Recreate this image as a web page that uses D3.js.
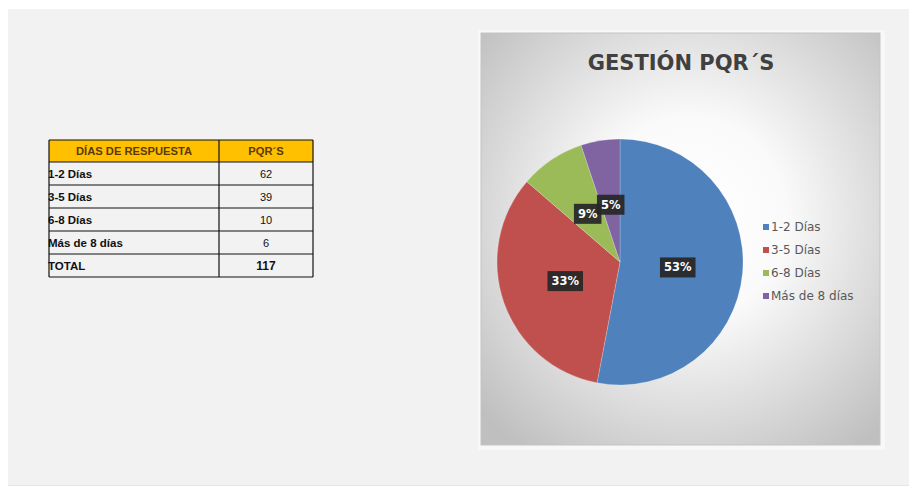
<!DOCTYPE html>
<html><head><meta charset="utf-8">
<script src="https://cdn.jsdelivr.net/npm/d3@7"></script>
<style>html,body{margin:0;padding:0;background:#fff;}svg{display:block;}</style>
</head><body>
<script>
const categories = ["1-2 Días", "3-5 Días", "6-8 Días", "Más de 8 días"];
const values = [62, 39, 10, 6];
const totalLabel = "TOTAL";
const tableHeaders = ["DÍAS DE RESPUESTA", "PQR´S"];
const colors = ["#4f81bd", "#c0504d", "#9bbb59", "#8064a2"];
const title = "GESTIÓN PQR´S";

const W = 909, H = 491;
const svg = d3.select("body").append("svg").attr("width", W).attr("height", H);

// page panel
svg.append("rect").attr("x", 8).attr("y", 9).attr("width", W - 8).attr("height", 476).attr("fill", "#f2f2f2");
svg.append("line").attr("x1", 8).attr("x2", W).attr("y1", 485.5).attr("y2", 485.5).attr("stroke", "#e6e6e6");

// ---------- table ----------
const tX0 = 49, tX1 = 219, tX2 = 313, tY0 = 140, hH = 22, rH = 23;
const rows = categories.map((c, i) => ({label: c, value: values[i], bold: false}));
rows.push({label: totalLabel, value: d3.sum(values), bold: true});
const tg = svg.append("g");
tg.append("rect").attr("x", tX0).attr("y", tY0).attr("width", tX2 - tX0).attr("height", hH).attr("fill", "#ffc000");
const rowY = d3.scaleLinear().domain([0, 1]).range([tY0 + hH, tY0 + hH + rH]);
const hLines = [tY0].concat(d3.range(rows.length + 1).map(i => rowY(i)));
tg.selectAll("line.h").data(hLines).join("line")
  .attr("x1", tX0).attr("x2", tX2).attr("y1", d => d).attr("y2", d => d)
  .attr("stroke", "#111").attr("stroke-width", 1.2);
tg.selectAll("line.v").data([tX0, tX1, tX2]).join("line")
  .attr("x1", d => d).attr("x2", d => d).attr("y1", tY0).attr("y2", rowY(rows.length))
  .attr("stroke", "#111").attr("stroke-width", 1.2);
tg.selectAll("text.hd").data(tableHeaders).join("text")
  .attr("x", (d, i) => i === 0 ? (tX0 + tX1) / 2 : (tX1 + tX2) / 2)
  .attr("y", tY0 + hH / 2 + 4)
  .attr("text-anchor", "middle").attr("font-family", "Liberation Sans, Arial, sans-serif")
  .attr("font-weight", "bold").attr("font-size", 11.2).attr("fill", "#5a3a08").text(d => d);
tg.selectAll("text.lab").data(rows).join("text")
  .attr("x", tX0 - 1).attr("y", (d, i) => rowY(i) + rH / 2 + 4)
  .attr("font-family", "Liberation Sans, Arial, sans-serif").attr("font-weight", "bold")
  .attr("font-size", 11.5).attr("fill", "#111").text(d => d.label);
tg.selectAll("text.val").data(rows).join("text")
  .attr("x", (tX1 + tX2) / 2).attr("y", (d, i) => rowY(i) + rH / 2 + 4)
  .attr("text-anchor", "middle")
  .attr("font-family", "Liberation Sans, Arial, sans-serif").attr("font-weight", d => d.bold ? "bold" : "normal")
  .attr("font-size", d => d.bold ? 12 : 11).attr("fill", "#111").text(d => d.value);

// ---------- chart box ----------
const bx = 481, by = 33, bw = 399, bh = 412;
const defs = svg.append("defs");
const rg = defs.append("radialGradient").attr("id", "bg").attr("cx", "52%").attr("cy", "45%").attr("r", "70%");
rg.append("stop").attr("offset", "0%").attr("stop-color", "#ffffff");
rg.append("stop").attr("offset", "35%").attr("stop-color", "#fafafa");
rg.append("stop").attr("offset", "100%").attr("stop-color", "#bfbfbf");
svg.append("rect").attr("x", bx - 3).attr("y", by - 3).attr("width", bw + 8).attr("height", bh + 8).attr("fill", "#f8f8f8");
svg.append("rect").attr("x", bx).attr("y", by).attr("width", bw).attr("height", bh)
  .attr("fill", "url(#bg)").attr("stroke", "#c4c4c4").attr("stroke-width", 1);

svg.append("text").attr("x", 681).attr("y", 70).attr("text-anchor", "middle")
  .attr("font-family", "DejaVu Sans, sans-serif").attr("font-weight", "bold")
  .attr("font-size", 21).attr("fill", "#404040").text(title);

// ---------- pie ----------
const cx = 620, cy = 262, R = 123;
const pie = d3.pie().sort(null).value(d => d)(values);
const arc = d3.arc().innerRadius(0).outerRadius(R);
const labelArc = d3.arc().innerRadius(58).outerRadius(58);
const color = d3.scaleOrdinal().domain(categories).range(colors);
const total = d3.sum(values);
const pg = svg.append("g").attr("transform", `translate(${cx},${cy})`);
pg.selectAll("path").data(pie).join("path")
  .attr("d", arc).attr("fill", (d, i) => color(categories[i]))
  .attr("stroke", "#ffffff").attr("stroke-opacity", 0.35).attr("stroke-width", 0.6);

const lg = pg.selectAll("g.lbl").data(pie).join("g")
  .attr("transform", d => `translate(${labelArc.centroid(d)})`);
lg.each(function(d) {
  const g = d3.select(this);
  const txt = Math.round(d.value / total * 100) + "%";
  const t = g.append("text").attr("text-anchor", "middle").attr("y", 4)
    .attr("font-family", "DejaVu Sans, sans-serif").attr("font-weight", "bold")
    .attr("font-size", 11.5).attr("fill", "#ffffff").text(txt);
  const w = t.node().getComputedTextLength() + 8;
  g.insert("rect", "text").attr("x", -w / 2).attr("y", -10).attr("width", w).attr("height", 20)
    .attr("fill", "#262626").attr("fill-opacity", 0.92);
});

// ---------- legend ----------
const ly = d3.scaleLinear().domain([0, 1]).range([227, 250]);
const leg = svg.append("g");
leg.selectAll("rect").data(categories).join("rect")
  .attr("x", 763).attr("y", (d, i) => ly(i) - 3).attr("width", 6).attr("height", 6)
  .attr("fill", d => color(d));
leg.selectAll("text").data(categories).join("text")
  .attr("x", 771).attr("y", (d, i) => ly(i) + 4)
  .attr("font-family", "DejaVu Sans, sans-serif").attr("font-size", 12)
  .attr("fill", "#595959").text(d => d);
</script>
</body></html>
